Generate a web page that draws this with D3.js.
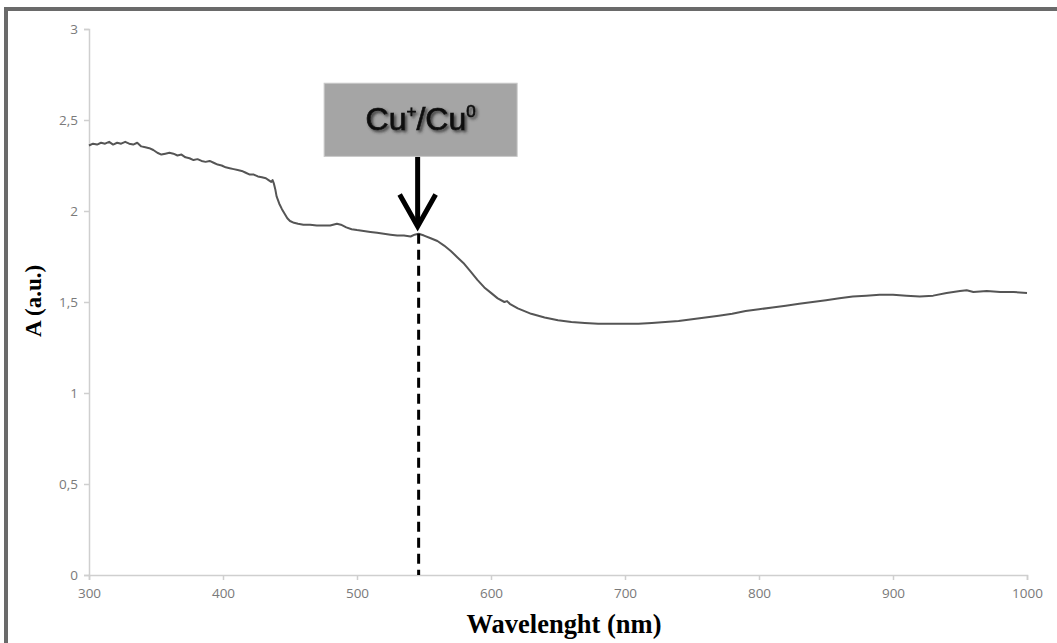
<!DOCTYPE html>
<html>
<head>
<meta charset="utf-8">
<script src="https://cdn.jsdelivr.net/npm/d3@7"></script>
<style>
    body { margin: 0; background: #fff; }
    #chart_container { width: 1057px; height: 643px; }
</style>
</head>
<body>
<div id="chart_container"></div>
<script>
// spectrum
var wavelengths = [300, 303, 306, 309, 312, 315, 318, 321, 324, 327, 330, 333, 336, 339, 342, 345, 348, 351, 354, 357,
    360, 363, 366, 369, 372, 375, 378, 381, 384, 387, 390, 393, 396, 399, 402, 405, 408, 411, 414, 417,
    420, 423, 426, 429, 432, 434, 436, 437, 438, 439, 440, 442, 444, 446, 448, 450, 453, 456, 460, 465,
    470, 475, 480, 485, 488, 492, 496, 500, 505, 510, 515, 520, 525, 530, 535, 540, 543, 546, 550, 555,
    560, 565, 570, 575, 580, 585, 590, 595, 600, 605, 610, 612, 614, 620, 625, 630, 640, 650, 660, 670,
    680, 690, 700, 710, 720, 730, 740, 750, 760, 770, 780, 790, 800, 810, 820, 830, 840, 850, 860, 870,
    880, 890, 900, 910, 920, 930, 940, 950, 955, 960, 970, 980, 990, 1000];
var absorbance = [2.36, 2.37, 2.365, 2.375, 2.37, 2.38, 2.365, 2.375, 2.37, 2.38, 2.37, 2.365, 2.375, 2.355, 2.35, 2.345, 2.335, 2.32, 2.31, 2.315,
    2.32, 2.315, 2.305, 2.31, 2.295, 2.29, 2.28, 2.285, 2.275, 2.27, 2.275, 2.265, 2.255, 2.25, 2.24, 2.235, 2.23, 2.225, 2.22, 2.21,
    2.2, 2.2, 2.19, 2.185, 2.18, 2.17, 2.16, 2.17, 2.15, 2.12, 2.08, 2.04, 2.01, 1.985, 1.96, 1.945, 1.935, 1.93, 1.925, 1.925,
    1.92, 1.92, 1.92, 1.93, 1.925, 1.91, 1.9, 1.895, 1.89, 1.885, 1.88, 1.875, 1.87, 1.865, 1.865, 1.86, 1.87, 1.875, 1.865, 1.85,
    1.835, 1.81, 1.78, 1.745, 1.71, 1.665, 1.62, 1.58, 1.55, 1.52, 1.5, 1.505, 1.49, 1.465, 1.45, 1.435, 1.415, 1.4, 1.39, 1.385,
    1.38, 1.38, 1.38, 1.38, 1.385, 1.39, 1.395, 1.405, 1.415, 1.425, 1.435, 1.45, 1.46, 1.47, 1.48, 1.49, 1.5, 1.51, 1.52, 1.53,
    1.535, 1.54, 1.54, 1.535, 1.53, 1.535, 1.55, 1.56, 1.565, 1.555, 1.56, 1.555, 1.555, 1.55];

var x_ticks = [300, 400, 500, 600, 700, 800, 900, 1000];
var y_ticks = [0, 0.5, 1, 1.5, 2, 2.5, 3];
var marker_wavelength = 546;
var marker_absorbance = 1.875;
var marker_label = ["Cu", "+", "/Cu", "0"];

draw_spectrum();

function draw_spectrum() {
    var chart_width = 1057;
    var chart_height = 643;
    var margin = { top: 29, right: 30, bottom: 68, left: 89 };
    var width = chart_width - margin.left - margin.right;
    var height = chart_height - margin.top - margin.bottom;

    var svg = d3.select("#chart_container")
        .append("svg")
        .attr("width", chart_width)
        .attr("height", chart_height);

    var defs = svg.append("defs");
    defs.append("filter")
        .attr("id", "shadow")
        .attr("x", "-10%").attr("y", "-20%")
        .attr("width", "130%").attr("height", "150%")
        .append("feDropShadow")
        .attr("dx", 2).attr("dy", 2)
        .attr("stdDeviation", 1.5)
        .attr("flood-color", "#333")
        .attr("flood-opacity", 0.9);

    // outer frame (cut off on the right and bottom)
    svg.append("rect")
        .attr("x", 6).attr("y", 9)
        .attr("width", chart_width + 20)
        .attr("height", chart_height + 20)
        .attr("fill", "none")
        .attr("stroke", "#6a6a6a")
        .attr("stroke-width", 4);

    var x = d3.scaleLinear().domain([300, 1000]).range([0, width]);
    var y = d3.scaleLinear().domain([0, 3]).range([height, 0]);

    var g = svg.append("g")
        .attr("transform", "translate(" + margin.left + "," + margin.top + ")");

    // axes
    var x_axis = g.append("g")
        .attr("transform", "translate(0," + height + ")")
        .call(d3.axisBottom(x).tickValues(x_ticks).tickSize(5).tickPadding(7).tickFormat(d3.format("d")));
    var y_axis = g.append("g")
        .call(d3.axisLeft(y).tickValues(y_ticks).tickSize(5).tickPadding(6)
            .tickFormat(function (d) { return String(d).replace(".", ","); }));

    [x_axis, y_axis].forEach(function (a) {
        a.select(".domain").attr("stroke", "#cfcfcf").attr("stroke-width", 1.5);
        a.selectAll(".tick line").attr("stroke", "#cfcfcf").attr("stroke-width", 1.5);
        a.selectAll(".tick text")
            .attr("fill", "#7a7a7a")
            .style("font-family", "'Open Sans', sans-serif")
            .style("font-size", "13.5px");
    });
    x_axis.selectAll(".tick text").attr("dy", "0.85em");

    // spectrum
    var points = wavelengths.map(function (w, i) { return [w, absorbance[i]]; });
    var line = d3.line()
        .x(function (d) { return x(d[0]); })
        .y(function (d) { return y(d[1]); });

    g.append("path")
        .datum(points)
        .attr("d", line)
        .attr("fill", "none")
        .attr("stroke", "#555")
        .attr("stroke-width", 2)
        .attr("stroke-linejoin", "round");

    // dashed marker down to the axis
    var mx = x(marker_wavelength);
    g.append("line")
        .attr("x1", mx).attr("x2", mx)
        .attr("y1", y(marker_absorbance))
        .attr("y2", height)
        .attr("stroke", "#000")
        .attr("stroke-width", 3)
        .attr("stroke-dasharray", "10,6");

    // arrow
    var arrow_top = y(2.3);
    var arrow_tip = y(1.915);
    g.append("line")
        .attr("x1", mx - 1).attr("x2", mx - 1)
        .attr("y1", arrow_top).attr("y2", arrow_tip - 3)
        .attr("stroke", "#000")
        .attr("stroke-width", 5);
    g.append("path")
        .attr("d", "M" + (mx - 19) + "," + (arrow_tip - 32) + "L" + (mx - 1) + "," + arrow_tip + "L" + (mx + 17) + "," + (arrow_tip - 32))
        .attr("fill", "none")
        .attr("stroke", "#000")
        .attr("stroke-width", 5)
        .attr("stroke-linejoin", "miter");

    // label box
    var box_w = 193;
    g.append("rect")
        .attr("x", mx + 2 - box_w / 2)
        .attr("y", y(2.702))
        .attr("width", box_w)
        .attr("height", y(2.3) - y(2.702))
        .attr("fill", "#a5a5a5")
        .attr("stroke", "#c8c8c8")
        .attr("stroke-width", 1);

    var label = g.append("text")
        .attr("x", mx + 2)
        .attr("y", y(2.702) + 47)
        .attr("text-anchor", "middle")
        .attr("fill", "#111")
        .attr("stroke", "#111")
        .attr("stroke-width", 0.7)
        .attr("filter", "url(#shadow)")
        .style("font-family", "'Liberation Sans', Arial, sans-serif")
        .style("font-size", "32px");
    marker_label.forEach(function (part, i) {
        var t = label.append("tspan").text(part);
        if (i % 2 == 1) {
            t.style("font-size", "17px").attr("dy", -13);
        } else if (i > 0) {
            t.attr("dy", 13);
        }
    });

    // axis titles
    svg.append("text")
        .attr("x", margin.left + width / 2 + 6)
        .attr("y", 633)
        .attr("text-anchor", "middle")
        .attr("textLength", 195)
        .attr("lengthAdjust", "spacingAndGlyphs")
        .style("font-family", "'Liberation Serif', 'Times New Roman', serif")
        .style("font-weight", "bold")
        .style("font-size", "28px")
        .text("Wavelenght (nm)");

    svg.append("text")
        .attr("transform", "translate(41," + 301 + ") rotate(-90)")
        .attr("text-anchor", "middle")
        .style("font-family", "'Liberation Serif', 'Times New Roman', serif")
        .style("font-weight", "bold")
        .style("font-size", "23px")
        .text("A (a.u.)");
}
</script>
</body>
</html>
